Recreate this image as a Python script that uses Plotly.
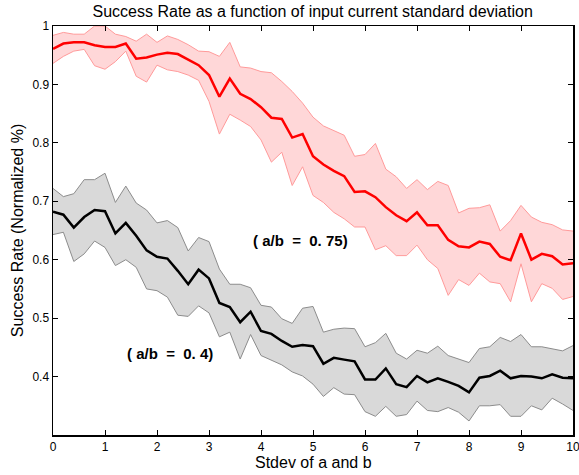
import plotly.graph_objects as go

x_vals = [0.0, 0.2, 0.4, 0.6, 0.8, 1.0, 1.2, 1.4, 1.6, 1.8,
          2.0, 2.2, 2.4, 2.6, 2.8, 3.0, 3.2, 3.4, 3.6, 3.8,
          4.0, 4.2, 4.4, 4.6, 4.8, 5.0, 5.2, 5.4, 5.6, 5.8,
          6.0, 6.2, 6.4, 6.6, 6.8, 7.0, 7.2, 7.4, 7.6, 7.8,
          8.0, 8.2, 8.4, 8.6, 8.8, 9.0, 9.2, 9.4, 9.6, 9.8, 10.0]

red_mean = [0.961, 0.970, 0.972, 0.972, 0.967, 0.964, 0.964, 0.970, 0.944, 0.946,
            0.951, 0.954, 0.952, 0.943, 0.933, 0.916, 0.879, 0.910, 0.884, 0.875,
            0.861, 0.843, 0.841, 0.809, 0.815, 0.777, 0.763, 0.752, 0.743, 0.716,
            0.717, 0.707, 0.690, 0.676, 0.666, 0.681, 0.659, 0.659, 0.634, 0.623,
            0.621, 0.631, 0.627, 0.605, 0.599, 0.645, 0.600, 0.610, 0.606, 0.592, 0.594]
red_upper = [0.984, 0.989, 0.986, 0.986, 1.000, 1.000, 0.986, 0.982, 0.974, 0.986,
             0.972, 0.983, 0.977, 0.968, 0.957, 0.956, 0.948, 0.972, 0.930, 0.928,
             0.922, 0.920, 0.905, 0.888, 0.868, 0.844, 0.829, 0.821, 0.813, 0.777,
             0.780, 0.799, 0.755, 0.742, 0.722, 0.737, 0.720, 0.734, 0.727, 0.680,
             0.688, 0.689, 0.694, 0.649, 0.667, 0.693, 0.673, 0.664, 0.660, 0.651, 0.649]
red_lower = [0.936, 0.948, 0.957, 0.960, 0.932, 0.926, 0.939, 0.957, 0.914, 0.904,
             0.933, 0.925, 0.922, 0.916, 0.907, 0.871, 0.815, 0.849, 0.839, 0.828,
             0.805, 0.767, 0.784, 0.727, 0.759, 0.710, 0.698, 0.681, 0.670, 0.656,
             0.656, 0.617, 0.624, 0.607, 0.607, 0.625, 0.600, 0.585, 0.539, 0.566,
             0.556, 0.577, 0.562, 0.559, 0.528, 0.593, 0.528, 0.559, 0.551, 0.532, 0.537]

black_mean = [0.682, 0.677, 0.655, 0.673, 0.685, 0.683, 0.645, 0.663, 0.641, 0.616,
              0.605, 0.602, 0.581, 0.558, 0.583, 0.568, 0.526, 0.519, 0.493, 0.511,
              0.478, 0.473, 0.461, 0.451, 0.454, 0.452, 0.422, 0.432, 0.429, 0.426,
              0.395, 0.395, 0.414, 0.387, 0.382, 0.401, 0.390, 0.397, 0.391, 0.384,
              0.373, 0.398, 0.401, 0.410, 0.397, 0.401, 0.400, 0.397, 0.404, 0.398, 0.397]
black_upper = [0.722, 0.708, 0.713, 0.737, 0.737, 0.748, 0.698, 0.726, 0.697, 0.685,
               0.663, 0.667, 0.655, 0.615, 0.638, 0.631, 0.584, 0.558, 0.558, 0.552,
               0.522, 0.519, 0.499, 0.491, 0.517, 0.520, 0.476, 0.481, 0.483, 0.482,
               0.451, 0.458, 0.474, 0.440, 0.430, 0.445, 0.440, 0.452, 0.436, 0.430,
               0.424, 0.448, 0.451, 0.467, 0.460, 0.472, 0.451, 0.451, 0.448, 0.444, 0.453]
black_lower = [0.643, 0.647, 0.597, 0.610, 0.632, 0.621, 0.590, 0.600, 0.587, 0.550,
               0.547, 0.536, 0.505, 0.503, 0.521, 0.509, 0.468, 0.476, 0.430, 0.472,
               0.436, 0.428, 0.420, 0.408, 0.401, 0.387, 0.366, 0.381, 0.370, 0.369,
               0.340, 0.332, 0.349, 0.332, 0.335, 0.358, 0.342, 0.340, 0.347, 0.339,
               0.324, 0.350, 0.350, 0.352, 0.332, 0.332, 0.350, 0.343, 0.363, 0.353, 0.342]

y_tickvals = [0.4, 0.5, 0.6, 0.7, 0.8, 0.9, 1.0]
y_ticktext = ["0.4", "0.5", "0.6", "0.7", "0.8", "0.9", "1"]
x_tickvals = [0, 1, 2, 3, 4, 5, 6, 7, 8, 9, 10]

NB = "\u00a0"
label_low = "(" + NB + "a/b" + NB * 2 + "=" + NB * 2 + "0." + NB + "4)"
label_high = "(" + NB + "a/b" + NB * 2 + "=" + NB * 2 + "0." + NB + "75)"

FONT = "Liberation Sans, Arial, Helvetica, sans-serif"

fig = go.Figure()

# gray band (a/b = 0.4)
fig.add_trace(go.Scatter(x=x_vals, y=black_lower, mode="lines",
                         line=dict(color="#8c8c8c", width=1), showlegend=False,
                         hoverinfo="skip"))
fig.add_trace(go.Scatter(x=x_vals, y=black_upper, mode="lines",
                         line=dict(color="#8c8c8c", width=1), fill="tonexty",
                         fillcolor="#d9d9d9", showlegend=False, hoverinfo="skip"))
# red band (a/b = 0.75)
fig.add_trace(go.Scatter(x=x_vals, y=red_lower, mode="lines",
                         line=dict(color="#ff9a9a", width=1), showlegend=False,
                         hoverinfo="skip"))
fig.add_trace(go.Scatter(x=x_vals, y=red_upper, mode="lines",
                         line=dict(color="#ff9a9a", width=1), fill="tonexty",
                         fillcolor="#ffd7d8", showlegend=False, hoverinfo="skip"))
# mean lines
fig.add_trace(go.Scatter(x=x_vals, y=black_mean, mode="lines",
                         line=dict(color="black", width=2.5), showlegend=False))
fig.add_trace(go.Scatter(x=x_vals, y=red_mean, mode="lines",
                         line=dict(color="#ff0000", width=2.5), showlegend=False))

fig.add_annotation(x=4.75, y=0.633, text="<b>" + label_high + "</b>", showarrow=False,
                   font=dict(family=FONT, size=15, color="black"))
fig.add_annotation(x=2.25, y=0.44, text="<b>" + label_low + "</b>", showarrow=False,
                   font=dict(family=FONT, size=15, color="black"))

# axis titles as paper annotations
fig.add_annotation(xref="paper", yref="paper", x=0.5, y=-0.067, yanchor="middle",
                   text="Stdev of a and b", showarrow=False,
                   font=dict(family=FONT, size=16, color="black"))
fig.add_annotation(xref="paper", yref="paper", x=-0.068, y=0.5, xanchor="center",
                   yanchor="middle", textangle=-90,
                   text="Success Rate (Normalized %)", showarrow=False,
                   font=dict(family=FONT, size=16, color="black"))

axis_common = dict(showline=True, linecolor="black", linewidth=1.5, mirror="ticks",
                   ticks="inside", ticklen=5, tickcolor="black", tickwidth=1,
                   showgrid=False, zeroline=False, automargin=False,
                   ticklabeloverflow="allow",
                   tickfont=dict(family=FONT, size=12, color="black"))

fig.update_layout(
    width=579, height=475,
    margin=dict(l=53, r=6, t=26, b=40),
    paper_bgcolor="white", plot_bgcolor="white",
    hovermode=False,
    title=dict(text="Success Rate as a function of input current standard deviation",
               x=0.54, xanchor="center", y=0.975, yanchor="middle", yref="container",
               font=dict(family=FONT, size=16, color="black")),
    xaxis=dict(range=[0, 10], tickvals=x_tickvals, **axis_common),
    yaxis=dict(range=[0.3, 1.0], tickvals=y_tickvals, ticktext=y_ticktext, **axis_common),
)

fig.write_html("out.html", config={"displayModeBar": False, "staticPlot": True},
               post_script="document.body.style.margin='0';document.body.style.overflow='hidden';")
